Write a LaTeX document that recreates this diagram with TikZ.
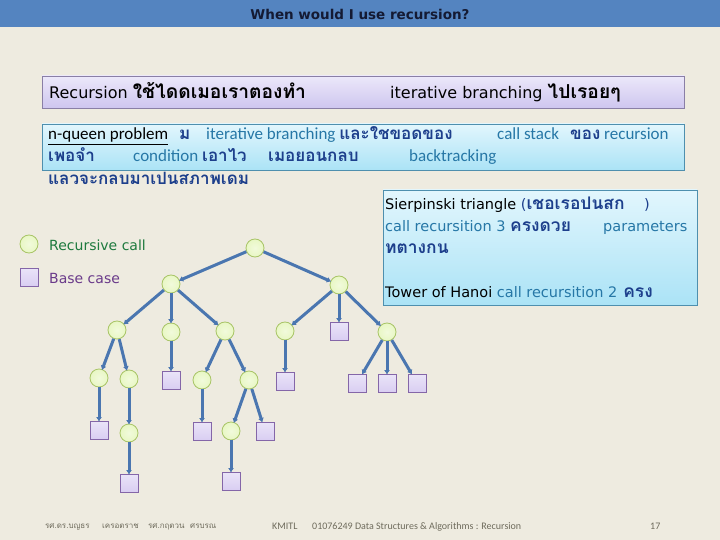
\documentclass[tikz,border=0pt]{standalone}
\usepackage{fontspec}
\setmainfont{Carlito}
\newfontfamily\thaif[Script=Thai,Scale=1.2]{Loma}
\newfontfamily\thaig[Script=Thai]{Loma}
\newfontfamily\tah{DejaVu Sans}
\usetikzlibrary{arrows.meta}
\definecolor{bg}{HTML}{EEEBE0}
\definecolor{hdr}{HTML}{5484C0}
\definecolor{edgec}{HTML}{4A76B0}
\definecolor{rcfill}{HTML}{E8F7C4}
\definecolor{rcline}{HTML}{A8C466}
\definecolor{bcfill}{HTML}{D9CEF2}
\definecolor{bcline}{HTML}{8466A8}
\definecolor{teal}{HTML}{2677A6}
\definecolor{dblue}{HTML}{1D3F8C}
\definecolor{lgreen}{HTML}{1E7A3E}
\definecolor{lpurp}{HTML}{6A3A8A}
\definecolor{foot}{HTML}{6E6B5C}
\definecolor{cyt}{HTML}{E2F6FD}
\definecolor{cyb}{HTML}{ABE3F6}
\definecolor{cyd}{HTML}{4E8FAE}
\definecolor{lvt}{HTML}{ECE8FA}
\definecolor{lvb}{HTML}{CEC6EF}
\definecolor{lvd}{HTML}{8A7FA6}
\definecolor{ttl}{HTML}{141A33}
\newcommand{\thx}[1]{{\thaif\bfseries #1}}
\newcommand{\thy}[1]{{\thaig\bfseries #1}}
\begin{document}
\begin{tikzpicture}[x=1pt,y=-1pt,
  rc/.style={circle,draw=rcline,line width=0.8pt,inner sep=0pt,minimum size=18pt,inner color=rcfill!60!white,outer color=rcfill},
  bc/.style={rectangle,draw=bcline,line width=0.8pt,inner sep=0pt,minimum size=18pt,top color=bcfill!55!white,bottom color=bcfill},
  edge/.style={draw=edgec,line width=3pt,-{Latex[length=4.5pt,width=6pt]},shorten >=-1pt},
  txt/.style={anchor=base west,inner sep=0pt},
  b1/.style={txt,font=\fontsize{16}{19}\selectfont\tah},
  b2/.style={txt,font=\fontsize{17}{20}\selectfont,text=teal},
  b3/.style={txt,font=\fontsize{14.5}{17}\selectfont\tah,text=teal},
  ft/.style={txt,font=\fontsize{8}{10}\selectfont,text=foot}]
\useasboundingbox (0,0) rectangle (720,540);
\fill[bg] (0,0) rectangle (720,540);
\fill[hdr] (0,0) rectangle (720,27);
\node[font=\fontsize{13.5}{15}\selectfont\tah\bfseries,text=ttl] (title) at (360,14) {When would I use recursion?};
% box 1
\shade[top color=lvt,bottom color=lvb,draw=lvd] (42,76) rectangle (684,108);
\node[b1] (t1a) at (49,99) {Recursion \thx{ใช้ไดดเมอเราตองทำ}};
\node[b1] (t1b) at (390,99) {iterative branching \thx{ไปเรอยๆ}};
% box 2
\shade[top color=cyt,bottom color=cyb,draw=cyd] (42,124) rectangle (684,170);
\node[b2,text=black] (t2a) at (48,140) {\underline{n-queen problem}};
\node[b2,text=dblue] (t2b) at (179,140) {\thy{ม}};
\node[b2] (t2c) at (206,140) {iterative branching \textcolor{dblue}{\thy{และใชขอดของ}}};
\node[b2] (t2d) at (497,140) {call stack};
\node[b2] (t2e) at (570,140) {\textcolor{dblue}{\thy{ของ}} recursion};
\node[b2,text=dblue] (t2f) at (48,162) {\thy{เพอจำ}};
\node[b2] (t2g) at (133,162) {condition \textcolor{dblue}{\thy{เอาไว}}};
\node[b2,text=dblue] (t2h) at (268,162) {\thy{เมอยอนกลบ}};
\node[b2] (t2i) at (409,162) {backtracking};
\node[b2,text=dblue] (t2j) at (48,185) {\thy{แลวจะกลบมาเปนสภาพเดม}};
% box 3
\shade[top color=cyt,bottom color=cyb,draw=cyd] (383,190) rectangle (697,305);
\node[b3,text=black] (t3a) at (385,210) {Sierpinski triangle \textcolor{dblue}{(\thx{เชอเรอปนสก}}};
\node[b3,text=dblue] (t3b) at (644,210) {)};
\node[b3] (t3c) at (385,232) {call recursition 3 \textcolor{dblue}{\thx{ครงดวย}}};
\node[b3] (t3d) at (603,232) {parameters};
\node[b3,text=dblue] (t3e) at (385,253) {\thx{ทตางกน}};
\node[b3,text=black] (t3f) at (385,297) {Tower of Hanoi \textcolor{teal}{call recursition 2\hspace{6pt}}\textcolor{dblue}{\thx{ครง}}};
% legend
\node[rc] (lc) at (29,244) {};
\node[txt,font=\fontsize{14}{17}\selectfont\tah,text=lgreen] (lct) at (49,250) {Recursive call};
\node[bc] (ls) at (29,277) {};
\node[txt,font=\fontsize{14}{17}\selectfont\tah,text=lpurp] (lst) at (49,283) {Base case};
% tree
\node[rc] (r) at (255,248) {};
\node[rc] (a) at (171,284) {};
\node[rc] (b) at (339,285) {};
\node[rc] (a1) at (117,330) {};
\node[rc] (a2) at (171,332) {};
\node[rc] (a3) at (225,331) {};
\node[rc] (b1) at (285,331) {};
\node[bc] (b2) at (339,331) {};
\node[rc] (b3) at (387,332) {};
\node[rc] (a1a) at (99,378) {};
\node[rc] (a1b) at (129,379) {};
\node[bc] (a2a) at (171,380) {};
\node[rc] (a3a) at (202,380) {};
\node[rc] (a3b) at (249,380) {};
\node[bc] (b1a) at (285,381) {};
\node[bc] (b3a) at (357,383) {};
\node[bc] (b3b) at (387,383) {};
\node[bc] (b3c) at (417,383) {};
\node[bc] (a1aa) at (99,430) {};
\node[rc] (a1ba) at (129,433) {};
\node[bc] (a3aa) at (202,431) {};
\node[rc] (a3ba) at (231,431) {};
\node[bc] (a3bb) at (265,431) {};
\node[bc] (a1baa) at (129,483) {};
\node[bc] (a3baa) at (231,481) {};
\draw[edge] (r) -- (a);
\draw[edge] (r) -- (b);
\draw[edge] (a) -- (a1);
\draw[edge] (a) -- (a2);
\draw[edge] (a) -- (a3);
\draw[edge] (b) -- (b1);
\draw[edge] (b) -- (b2);
\draw[edge] (b) -- (b3);
\draw[edge] (a1) -- (a1a);
\draw[edge] (a1) -- (a1b);
\draw[edge] (a2) -- (a2a);
\draw[edge] (a3) -- (a3a);
\draw[edge] (a3) -- (a3b);
\draw[edge] (b1) -- (b1a);
\draw[edge] (b3) -- (b3a);
\draw[edge] (b3) -- (b3b);
\draw[edge] (b3) -- (b3c);
\draw[edge] (a1a) -- (a1aa);
\draw[edge] (a1b) -- (a1ba);
\draw[edge] (a3a) -- (a3aa);
\draw[edge] (a3b) -- (a3ba);
\draw[edge] (a3b) -- (a3bb);
\draw[edge] (a1ba) -- (a1baa);
\draw[edge] (a3ba) -- (a3baa);
% footer
\node[ft] (f1) at (45,528) {\thy{\mdseries รศ.ดร.บญธร}};
\node[ft] (f2) at (102,528) {\thy{\mdseries เครอตราช}};
\node[ft] (f3) at (148,528) {\thy{\mdseries รศ.กฤตวน}};
\node[ft] (f4) at (190,528) {\thy{\mdseries ศรบรณ}};
\node[ft,font=\fontsize{10}{12}\selectfont] (f5) at (272,529) {KMITL};
\node[ft,font=\fontsize{10}{12}\selectfont] (f6) at (312,529) {01076249 Data Structures \& Algorithms : Recursion};
\node[ft,font=\fontsize{10}{12}\selectfont] (f7) at (650,529) {17};
\end{tikzpicture}
\end{document}
